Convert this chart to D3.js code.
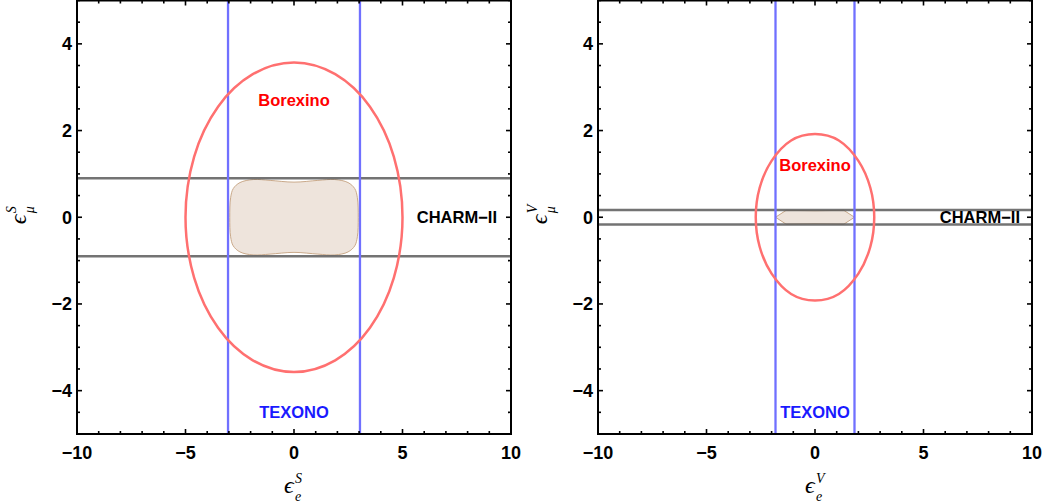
<!DOCTYPE html>
<html>
<head>
<meta charset="utf-8">
<script src="https://cdn.jsdelivr.net/npm/d3@7"></script>
<style>
  body { margin: 0; background: #fff; }
  svg { font-family: "Liberation Sans", Arial, sans-serif; }
</style>
</head>
<body>
<div id="graph"></div>
<script>
// axis ticks
const xTicks = [-10, -5, 0, 5, 10];
const yTicks = [-4, -2, 0, 2, 4];

// scalar panel (S)
const texonoS = [-3.04, 3.04];
const charmS = [-0.9, 0.9];
const borexinoS = [
  [0, 3.57], [1.9, 3.3], [3.5, 2.55], [4.6, 1.4], [5.0, 0], [4.6, -1.4], [3.5, -2.55], [1.9, -3.3],
  [0, -3.57], [-1.9, -3.3], [-3.5, -2.55], [-4.6, -1.4], [-5.0, 0], [-4.6, 1.4], [-3.5, 2.55], [-1.9, 3.3]
];
const overlapS = [
  [-2.96, 0.0], [-2.92, 0.45], [-2.80, 0.66], [-2.49, 0.80], [-1.88, 0.87], [-1.1, 0.85], [0, 0.81],
  [1.1, 0.85], [1.88, 0.87], [2.49, 0.80], [2.80, 0.66], [2.92, 0.45], [2.96, 0], [2.92, -0.45],
  [2.80, -0.66], [2.49, -0.80], [1.88, -0.87], [1.1, -0.85], [0, -0.81], [-1.1, -0.85], [-1.88, -0.87],
  [-2.49, -0.80], [-2.80, -0.66], [-2.92, -0.45]
];

// vector panel (V)
const texonoV = [-1.82, 1.82];
const charmV = [-0.17, 0.17];
const borexinoV = [
  [0, 1.92], [1.1, 1.77], [2.0, 1.3], [2.55, 0.68], [2.73, 0], [2.55, -0.68], [2.0, -1.3], [1.1, -1.77],
  [0, -1.92], [-1.1, -1.77], [-2.0, -1.3], [-2.55, -0.68], [-2.73, 0], [-2.55, 0.68], [-2.0, 1.3], [-1.1, 1.77]
];
const overlapV = [[-1.82, 0], [-1.33, 0.16], [0, 0.15], [1.33, 0.16], [1.82, 0], [1.33, -0.16], [0, -0.15], [-1.33, -0.16]];

const panels = [
  { id: 'S', left: 77, texono: texonoS, charm: charmS, borexino: borexinoS, overlap: overlapS, overlapCurve: d3.curveCatmullRomClosed, borexLabelY: 2.7, charmEnd: 497 },
  { id: 'V', left: 598, texono: texonoV, charm: charmV, borexino: borexinoV, overlap: overlapV, overlapCurve: d3.curveLinearClosed, borexLabelY: 1.2, charmEnd: 1020 }
];

const W = 434, plotTop = 0.5, plotBottom = 434;

const svg = d3.select('#graph').append('svg')
  .attr('width', 1050).attr('height', 504);

panels.forEach(p => {
  const x = d3.scaleLinear().domain([-10, 10]).range([p.left, p.left + W]);
  const y = d3.scaleLinear().domain([-5, 5]).range([plotBottom, plotTop]);
  const g = svg.append('g');

  g.append('clipPath').attr('id', 'clip' + p.id)
    .append('rect').attr('x', x(-10)).attr('y', y(5)).attr('width', W).attr('height', plotBottom - plotTop);

  const plot = g.append('g').attr('clip-path', `url(#clip${p.id})`);

  const area = d3.line().x(d => x(d[0])).y(d => y(d[1]));

  // overlap region
  plot.append('path')
    .attr('d', area.curve(p.overlapCurve)(p.overlap))
    .attr('fill', '#eee4dc').attr('stroke', '#c9a98a').attr('stroke-width', 1);

  // CHARM-II band
  plot.selectAll('.charm').data(p.charm).enter().append('line')
    .attr('x1', x(-10)).attr('x2', x(10))
    .attr('y1', d => y(d)).attr('y2', d => y(d))
    .attr('stroke', '#5a5a5a').attr('stroke-opacity', 0.85).attr('stroke-width', 2.5);

  // TEXONO band
  plot.selectAll('.texono').data(p.texono).enter().append('line')
    .attr('x1', d => x(d)).attr('x2', d => x(d))
    .attr('y1', y(-5)).attr('y2', y(5))
    .attr('stroke', '#7070ff').attr('stroke-width', 2.3);

  // Borexino contour
  plot.append('path')
    .attr('d', area.curve(d3.curveCardinalClosed.tension(0))(p.borexino))
    .attr('fill', 'none').attr('stroke', '#ff7070').attr('stroke-width', 2.5);

  // labels
  g.append('text').attr('x', x(0)).attr('y', y(p.borexLabelY)).attr('dy', '0.35em')
    .attr('text-anchor', 'middle').attr('font-weight', 'bold').attr('font-size', 16.5)
    .attr('fill', '#ff0000').text('Borexino');
  g.append('text').attr('x', x(0)).attr('y', y(-4.5)).attr('dy', '0.35em')
    .attr('text-anchor', 'middle').attr('font-weight', 'bold').attr('font-size', 16.5)
    .attr('fill', '#1a1aff').text('TEXONO');
  g.append('text').attr('x', p.charmEnd).attr('y', y(0)).attr('dy', '0.35em')
    .attr('text-anchor', 'end').attr('font-weight', 'bold').attr('font-size', 16.5)
    .attr('fill', '#000').text('CHARM\u2212II');

  // frame with inward ticks on all sides
  const minorX = d3.range(-10, 10.01, 1), minorY = d3.range(-5, 5.01, 0.5);
  const tk = g.append('g').attr('stroke', '#000').attr('stroke-width', 1.6);
  minorX.forEach(v => {
    const len = v % 5 === 0 ? 5 : 3;
    tk.append('line').attr('x1', x(v)).attr('x2', x(v)).attr('y1', y(-5)).attr('y2', y(-5) - len);
    tk.append('line').attr('x1', x(v)).attr('x2', x(v)).attr('y1', y(5)).attr('y2', y(5) + len);
  });
  minorY.forEach(v => {
    const len = v % 2 === 0 ? 5 : 3;
    tk.append('line').attr('y1', y(v)).attr('y2', y(v)).attr('x1', x(-10)).attr('x2', x(-10) + len);
    tk.append('line').attr('y1', y(v)).attr('y2', y(v)).attr('x1', x(10)).attr('x2', x(10) - len);
  });
  g.append('rect').attr('x', x(-10)).attr('y', y(5)).attr('width', W).attr('height', plotBottom - plotTop)
    .attr('fill', 'none').attr('stroke', '#000').attr('stroke-width', 2);

  const fmt = v => v < 0 ? '\u2212' + Math.abs(v) : String(v);
  g.selectAll('.xl').data(xTicks).enter().append('text')
    .attr('x', d => x(d)).attr('y', plotBottom + 25)
    .attr('text-anchor', 'middle').attr('font-weight', 'bold').attr('font-size', 18)
    .text(fmt);
  g.selectAll('.yl').data(yTicks).enter().append('text')
    .attr('x', x(-10) - 5).attr('y', d => y(d)).attr('dy', '0.35em')
    .attr('text-anchor', 'end').attr('font-weight', 'bold').attr('font-size', 18)
    .text(fmt);

  // axis titles
  const title = (tg, sub) => {
    tg.append('text').attr('x', -7).attr('y', 5).attr('font-family', '"Liberation Serif", serif')
      .attr('font-style', 'italic').attr('font-size', 24).text('\u03F5');
    tg.append('text').attr('x', 4).attr('y', -5).attr('font-family', '"Liberation Serif", serif')
      .attr('font-style', 'italic').attr('font-size', 14).text(p.id);
    tg.append('text').attr('x', 4).attr('y', 13).attr('font-family', '"Liberation Serif", serif')
      .attr('font-style', 'italic').attr('font-size', 14).text(sub);
  };
  title(g.append('g').attr('transform', `translate(${x(0) - 3},${plotBottom + 54})`), 'e');
  title(g.append('g').attr('transform', `translate(${x(-10) - 56},${y(0)}) rotate(-90)`), '\u03BC');
});
</script>
</body>
</html>
